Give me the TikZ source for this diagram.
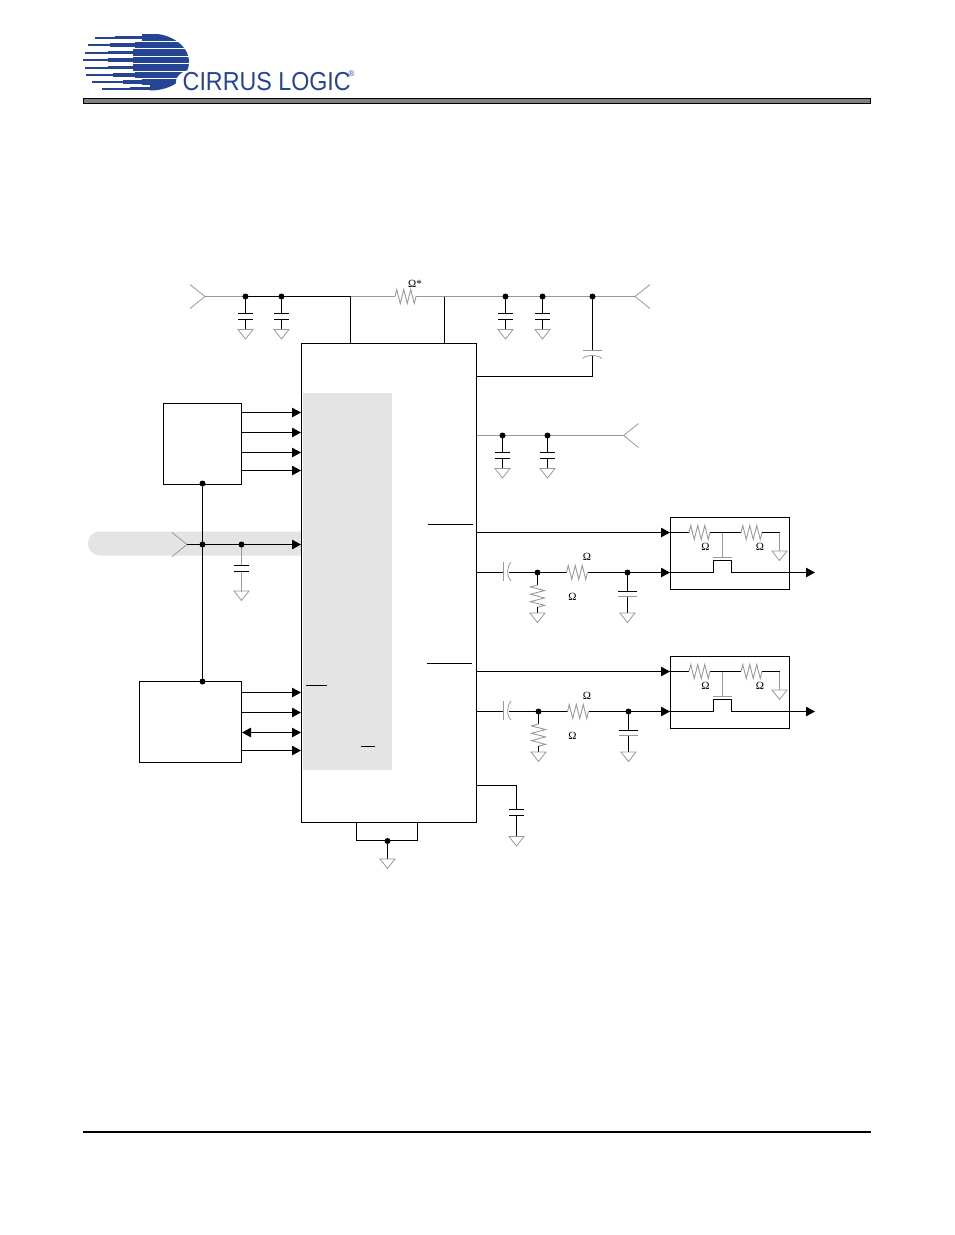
\documentclass[tikz,border=0pt]{standalone}
\usepackage{xcolor}
\usepackage{fontspec}
\setmainfont{Liberation Serif}
\newfontfamily\logofont{Liberation Sans}
\usetikzlibrary{arrows.meta}

\definecolor{logoblue}{RGB}{38,68,148}
\definecolor{wiregray}{gray}{0.6}
\definecolor{blockgray}{gray}{0.895}

\tikzset{
  wire/.style={line width=1pt, black},
  pale/.style={line width=0.9pt, wiregray},
  sig/.style={wire, -{Triangle[length=9pt,width=9.5pt]}},
  bisig/.style={wire, {Triangle[length=9pt,width=9.5pt]}-{Triangle[length=9pt,width=9.5pt]}},
  box/.style={draw, line width=1pt, inner sep=0pt, fill=white},
  ohm/.style={inner sep=0pt, font=\fontsize{11}{11}\selectfont},
  gndsym/.pic={\draw[pale, line width=0.8pt] (-7.5,0) -- (7.5,0) -- (0,9.5) -- cycle;},
  capsym/.pic={\draw[wire] (-7.5,0) -- (7.5,0) (-7.5,6) -- (7.5,6);},
  ressym/.pic={\draw[pale] (0,0) -- ++(1.75,-7) -- ++(3.5,14) -- ++(3.5,-14) -- ++(3.5,14) -- ++(3.5,-14) -- ++(3.5,14) -- ++(1.75,-7);},
  vressym/.pic={\draw[pale] (0,0) -- ++(-7,1.85) -- ++(14,3.7) -- ++(-14,3.7) -- ++(14,3.7) -- ++(-14,3.7) -- ++(14,3.7) -- ++(-7,1.85);},
  chevleft/.pic={\draw[pale, line width=0.8pt] (-15,-12) -- (0,0) -- (-15,12);},
  chevright/.pic={\draw[pale, line width=0.8pt] (15,-12) -- (0,0) -- (15,12);}
}

\begin{document}
\begin{tikzpicture}[x=1pt,y=-1pt]
\useasboundingbox (0,0) rectangle (954,1235);

% logo
\foreach \yy/\xa/\xb/\xc in {37.5/95/115/142, 45/88/110/135, 52.5/85/108/133, 60/83/108/133, 67.5/85/108/133, 75/86/113/135, 82/92/123/142, 88.5/102/130/150} {
  \fill[logoblue] (\xa,\yy-1) rectangle (\xb,\yy+1);
  \fill[logoblue] (\xb,\yy-1.8) rectangle (\xc,\yy+1.8);
  \begin{scope}
    \clip (150.5,62) ellipse (38.5 and 28.5);
    \fill[logoblue] (\xc,\yy-3.1) rectangle (190,\yy+3.1);
  \end{scope}
}
\fill[white] (196,82) ellipse (20 and 13);
\node[inner sep=0pt, anchor=west, text=logoblue] (logotext) at (182.5,81.5)
  {\logofont\fontsize{26}{26}\selectfont\scalebox{0.895}[1]{CIRRUS LOGIC}};
\node[inner sep=0pt, text=logoblue, font=\logofont\fontsize{8}{8}\selectfont] (logoreg) at (351.5,74) {\textregistered};

% header and footer rules
\draw[line width=1pt, fill=black!50] (83.5,98.5) rectangle (870.5,103);
\fill[black] (83,1131) rectangle (871,1133);

% grey backgrounds
\fill[blockgray, rounded corners=11.5pt] (88,531.5) rectangle (320,555.5);

% blocks
\node[box, minimum width=175pt, minimum height=479pt] (main) at (389,583) {};
\fill[blockgray] (302.5,393) rectangle (392,770);
\node[box, minimum width=78pt, minimum height=81pt] (clk) at (202.5,444) {};
\node[box, minimum width=102pt, minimum height=81pt] (ctrl) at (190.5,722) {};

% junctions
\coordinate (inL) at (205,296.5);
\coordinate (c1) at (245.5,296.5);
\coordinate (c2) at (281.5,296.5);
\coordinate (t1) at (350.5,296.5);
\coordinate (rL) at (395,296.5);
\coordinate (rR) at (416,296.5);
\coordinate (t2) at (444.5,296.5);
\coordinate (c3) at (505.5,296.5);
\coordinate (c4) at (542.5,296.5);
\coordinate (c5) at (592.5,296.5);
\coordinate (inR) at (635,296.5);
\coordinate (q0) at (476.5,435.5);
\coordinate (q1) at (502.5,435.5);
\coordinate (q2) at (547.5,435.5);
\coordinate (inQ) at (623.5,435.5);
\coordinate (inV) at (187,544.5);
\coordinate (v1) at (202.5,544.5);
\coordinate (v2) at (241.5,544.5);
\coordinate (vtop) at (202.5,483.5);
\coordinate (vbot) at (202.5,681.5);
\coordinate (gnd1) at (387.5,841);

% top rail
\pic at (inL) {chevleft};
\pic at (inR) {chevright};
\draw[pale] (inL) -- (c1);
\draw[wire] (c1) -- (t1);
\draw[pale] (t1) -- (rL);
\pic at (rL) {ressym};
\draw[pale] (rR) -- (t2) -- (inR);
\draw[wire] (t1) -- (t1 |- main.north);
\draw[wire] (t2) -- (t2 |- main.north);
\node[ohm, anchor=west] (rtop) at (408,284) {Ω*};

\foreach \nm in {c1,c2,c3,c4} {
  \draw[wire] (\nm) -- ++(0,17) ++(0,6) -- ++(0,10);
  \pic at ([yshift=-17pt]\nm) {capsym};
  \pic at ([yshift=-33pt]\nm) {gndsym};
}

% coupling cap on the right rail
\coordinate (cf) at (592.5,376.5);
\draw[wire] (c5) -- ++(0,53.5) ++(0,5) -- (cf) -- (cf -| main.east);
\draw[pale, line width=0.8pt] (582.5,350.5) -- (602,350.5);
\draw[pale, line width=0.8pt] (582.5,358.5) .. controls (587,354.5) and (597,354.5) .. (602,358.5);

% second rail
\pic at (inQ) {chevright};
\draw[pale] (q0) -- (inQ);
\foreach \nm in {q1,q2} {
  \draw[wire] (\nm) -- ++(0,17) ++(0,6) -- ++(0,10);
  \pic at ([yshift=-17pt]\nm) {capsym};
  \pic at ([yshift=-33pt]\nm) {gndsym};
}

% left inputs
\foreach \yy in {412.5,432.5,452.5,470.5}
  \draw[sig] (clk.east |- 0,\yy) -- (main.west |- 0,\yy);
\foreach \yy in {692.5,712.5,750.5}
  \draw[sig] (ctrl.east |- 0,\yy) -- (main.west |- 0,\yy);
\draw[bisig] (ctrl.east |- 0,732.5) -- (main.west |- 0,732.5);

\pic at (inV) {chevleft};
\draw[sig] (inV) -- (inV -| main.west);
\draw[wire] (vtop) -- (vbot);
\draw[pale] (v2) -- ++(0,21) ++(0,6) -- ++(0,20);
\pic at ([yshift=-21pt]v2) {capsym};
\pic at ([yshift=-46.5pt]v2) {gndsym};

% overbars in the block
\draw[wire] (306,685.5) -- (327,685.5);
\draw[wire] (361,746.5) -- (375,746.5);
\draw[wire] (428,524.5) -- (473,524.5);
\draw[wire] (427,663.5) -- (472,663.5);

% bottom of the block
\draw[wire] (356.5,822.5) -- (356.5,840.5) -- (417.5,840.5) -- (417.5,822.5);
\draw[wire] (gnd1) -- ++(0,18);
\pic at ([yshift=-18pt]gnd1) {gndsym};

\coordinate (flt) at (516.5,785.5);
\draw[wire] (flt -| main.east) -- (flt) -- ++(0,24) ++(0,6) -- ++(0,21);
\pic at ([yshift=-24pt]flt) {capsym};
\pic at ([yshift=-51pt]flt) {gndsym};

% output channels
\foreach \off/\xo in {0/0,139/1} {
\begin{scope}[yshift=-\off pt]
  \node[box, fill=none, minimum width=119pt, minimum height=72pt] (amp) at (730,553.5) {};
  \coordinate (mA) at (476.5,532.5);
  \coordinate (mB) at (476.5,572.5);
  \coordinate (acL) at (503.5,572.5);
  \coordinate (acR) at (509,572.5);
  \coordinate (d1) at (537.5+\xo,572.5);
  \coordinate (r1) at (566.5+\xo,572.5);
  \coordinate (r2) at (587.5+\xo,572.5);
  \coordinate (d2) at (627.5+\xo,572.5);
  \coordinate (ampA) at (670,532.5);
  \coordinate (ampB) at (670,572.5);
  \coordinate (out) at (815,572.5);

  \draw[sig] (mA) -- (ampA);
  \draw[wire] (mB) -- (acL);
  \draw[pale, line width=0.8pt] (acL |- 0,562) -- (acL |- 0,581);
  \draw[pale, line width=0.8pt] (511,562) .. controls (506.5,567) and (506.5,577) .. (511,581);
  \draw[wire] (acR) -- (r1);
  \pic at (r1) {ressym};
  \draw[sig] (r2) -- (ampB);

  % shunt resistor
  \draw[wire] (d1) -- ++(0,12.5);
  \pic at ([yshift=-12.5pt]d1) {vressym};
  \draw[wire] ([yshift=-34.5pt]d1) -- ++(0,6);
  \pic at ([yshift=-40.5pt]d1) {gndsym};

  % shunt cap
  \draw[wire] (d2) -- ++(0,19) ++(0,5) -- ++(0,16.5);
  \draw[wire] ([xshift=-9.5pt,yshift=-19pt]d2) -- ++(19,0);
  \draw[pale, line width=0.8pt] ([xshift=-9.5pt,yshift=-24pt]d2) -- ++(19,0);
  \pic at ([yshift=-40.5pt]d2) {gndsym};

  % inside the amp box
  \draw[wire] (ampA) -- ++(19,0);
  \pic at ([xshift=19pt]ampA) {ressym};
  \draw[wire] ([xshift=40pt]ampA) -- ++(31,0);
  \pic at ([xshift=71pt]ampA) {ressym};
  \draw[wire] ([xshift=92pt]ampA) -- ++(17.5,0);
  \draw[pale] (779.5,532.5) -- (779.5,551);
  \pic at (779.5,551) {gndsym};
  \draw[pale] (722.5,532.5) -- (722.5,557.5);
  \draw[pale] (713,557.5) -- (732,557.5);
  \draw[sig] (ampB) -- (713.5,572.5) -- (713.5,560.5) -- (731.5,560.5) -- (731.5,572.5) -- (out);

  \node[ohm] (o1) at (587,556.5) {Ω};
  \node[ohm] (o2) at (572.5,596.5) {Ω};
  \node[ohm] (o3) at (705.5,546.5) {Ω};
  \node[ohm] (o4) at (760,546.5) {Ω};

  \foreach \d in {d1,d2} \fill (\d) circle (3);
\end{scope}
}

\foreach \d in {c1,c2,c3,c4,c5,q1,q2,v1,v2,vtop,vbot,gnd1}
  \fill (\d) circle (3);

\end{tikzpicture}
\end{document}
